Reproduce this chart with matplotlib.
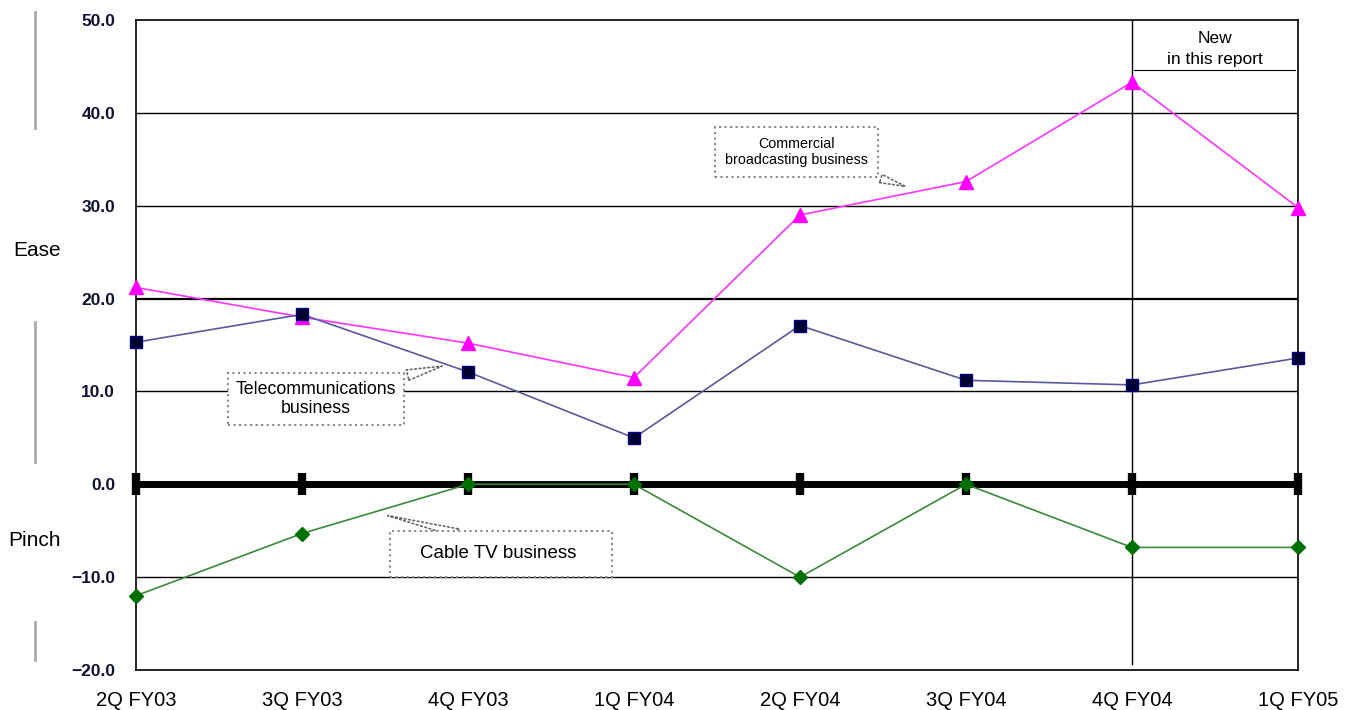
import matplotlib.pyplot as plt
from matplotlib.lines import Line2D
from matplotlib.patches import Rectangle

plt.rcParams['font.family'] = ['Liberation Sans', 'DejaVu Sans']

# Quarterly diffusion index by business
quarters = ['2Q FY03', '3Q FY03', '4Q FY03', '1Q FY04', '2Q FY04', '3Q FY04', '4Q FY04', '1Q FY05']
broadcasting = [21.2, 18.0, 15.2, 11.5, 29.0, 32.6, 43.3, 29.8]
telecom = [15.3, 18.3, 12.1, 5.0, 17.1, 11.2, 10.7, 13.6]
cable_tv = [-12.0, -5.3, 0.0, 0.0, -10.0, 0.0, -6.8, -6.8]
zero_line = [0.0] * len(quarters)

x = list(range(len(quarters)))

fig = plt.figure(figsize=(13.58, 7.10), dpi=100)
ax = fig.add_axes([136 / 1358, 1 - 670 / 710, 1162 / 1358, 650 / 710])

ax.set_xlim(0, len(quarters) - 1)
ax.set_ylim(-20, 50)

# horizontal grid
for v in [40, 30, 20, 10, -10]:
    ax.axhline(v, color='black', lw=1.6 if v == 20 else 1.0, zorder=1)

# zero line with tick marks
ax.plot(x, zero_line, color='black', lw=5, marker='|', ms=16, mew=6,
        zorder=2, clip_on=False)

ax.plot(x, broadcasting, color='#ff33ff', lw=1.2, marker='^', ms=10,
        mfc='#ff00ff', mec='#ff00ff', zorder=4, clip_on=False)
ax.plot(x, telecom, color='#5a5a9a', lw=1.2, marker='s', ms=8,
        mfc='#000030', mec='#000080', zorder=4, clip_on=False)
ax.plot(x, cable_tv, color='#3a8a3a', lw=1.2, marker='D', ms=7,
        mfc='#007000', mec='#007000', zorder=4, clip_on=False)

# divider before the latest quarter
ax.plot([6, 6], [50, -19.4], color='black', lw=1.0, zorder=3, clip_on=False)

ax.set_xticks(x)
ax.set_xticklabels(quarters, fontsize=14.5)
ax.set_yticks(range(-20, 51, 10))
ax.set_yticklabels([f'{v:.1f}'.replace('-', '\u2212') for v in range(-20, 51, 10)],
                   fontsize=12.5, fontweight='bold', color='#111133')
ax.tick_params(axis='y', length=0, pad=15)
ax.tick_params(axis='x', length=0, pad=15)
for s in ax.spines.values():
    s.set_linewidth(1.2)

# "New in this report" bracket
ax.text(6.5, 48.0, 'New', ha='center', va='center', fontsize=12.5)
ax.text(6.5, 45.7, 'in this report', ha='center', va='center', fontsize=12.5)
ax.plot([6.01, 6.98], [44.6, 44.6], color='black', lw=0.8, zorder=3)

wedge = dict(arrowstyle='wedge,tail_width=0.6', fc='white', ec='#666666', ls=':', lw=1.2)

ax.annotate('Commercial\nbroadcasting business', xy=(4.65, 32.0), xytext=(3.98, 35.8),
            ha='center', va='center', fontsize=10.3,
            bbox=dict(boxstyle='square,pad=0.7', fc='white', ec='#888888', ls=':', lw=1.5),
            arrowprops=wedge, zorder=6)
ax.annotate('Telecommunications\nbusiness', xy=(1.86, 12.8), xytext=(1.084, 9.2),
            ha='center', va='center', fontsize=12.8,
            bbox=dict(boxstyle='square,pad=0.45', fc='white', ec='#888888', ls=':', lw=1.5),
            arrowprops=wedge, zorder=6)

# cable TV callout: wider box drawn by hand
ax.annotate('', xy=(1.5, -3.3), xytext=(1.95, -5.3), arrowprops=wedge, zorder=5)
ax.add_patch(Rectangle((1.53, -10.0), 1.34, 4.95, fc='white', ec='#888888',
                       ls=':', lw=1.5, zorder=6))
ax.text(2.18, -7.4, 'Cable TV business', ha='center', va='center',
        fontsize=13.5, zorder=7)

# side labels and bars
fig.text(37 / 1358, 1 - 250 / 710, 'Ease', ha='center', va='center', fontsize=15)
fig.text(35 / 1358, 1 - 540 / 710, 'Pinch', ha='center', va='center', fontsize=15)
for y0, y1 in [(12, 128), (322, 462), (622, 660)]:
    fig.add_artist(Line2D([35 / 1358, 35 / 1358], [1 - y0 / 710, 1 - y1 / 710],
                          color='#aaaaaa', lw=2))

fig.savefig('out.png', dpi=100)
